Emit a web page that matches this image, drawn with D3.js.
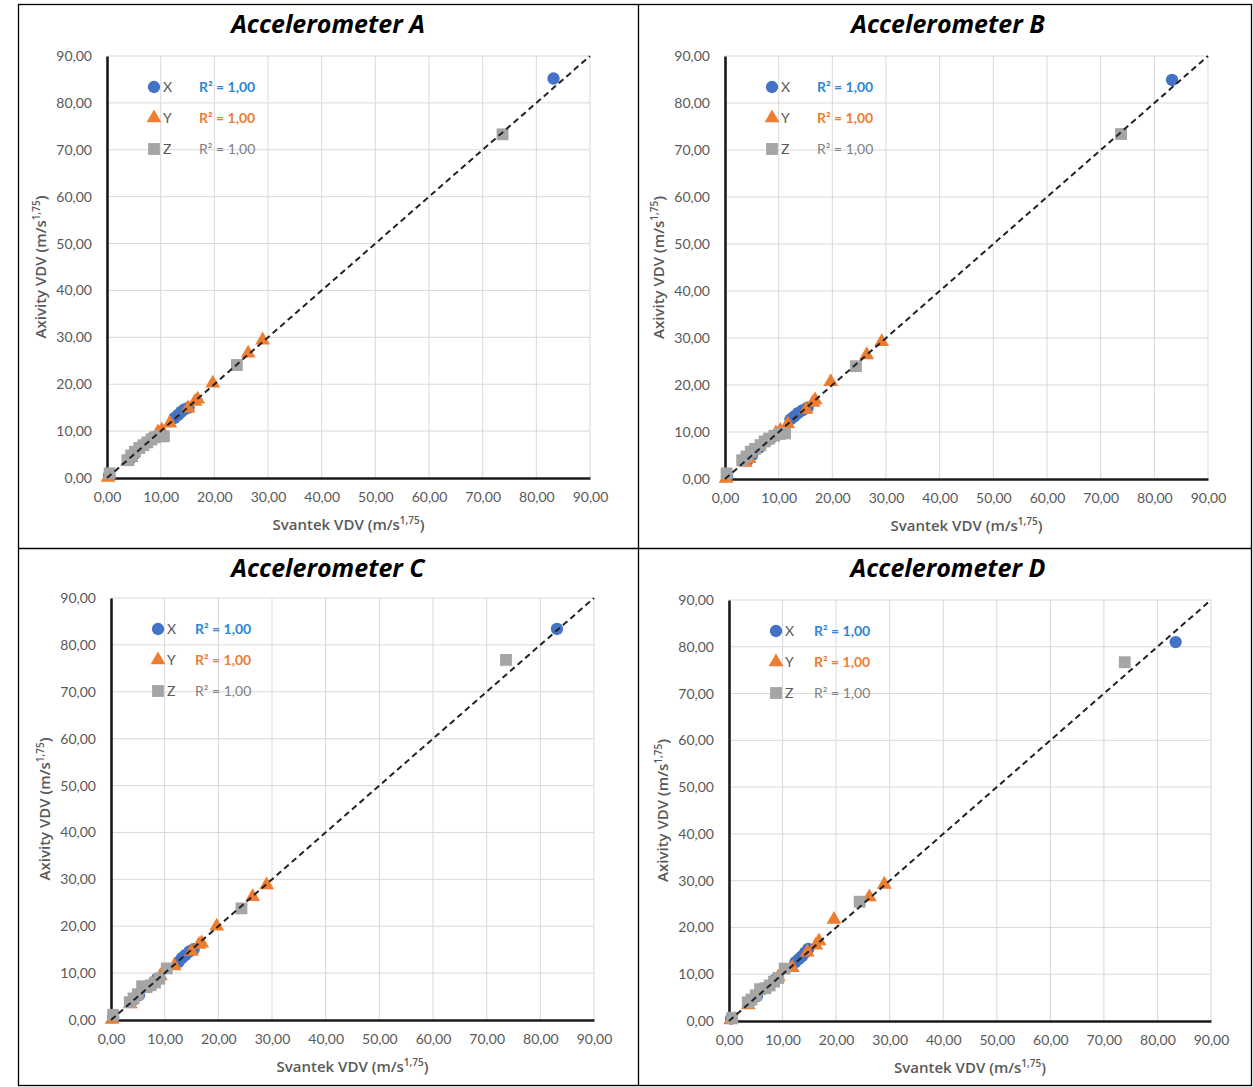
<!DOCTYPE html>
<html>
<head>
<meta charset="utf-8">
<script src="https://cdn.jsdelivr.net/npm/d3@7"></script>
<style>
  body { margin: 0; background: #fff; }
  svg { display: block; font-family: Lato, "Open Sans", sans-serif; }
</style>
</head>
<body>
<svg id="chart" width="1253" height="1087"></svg>
<script>
// axis ticks (0..90 by 10), shown with a decimal comma
var tickValues = [0, 10, 20, 30, 40, 50, 60, 70, 80, 90];
var seriesNames = ["X", "Y", "Z"];
var r2Labels = ["R\u00b2 = 1,00", "R\u00b2 = 1,00", "R\u00b2 = 1,00"];
var panelTitles = ["Accelerometer A", "Accelerometer B", "Accelerometer C", "Accelerometer D"];

// [Svantek, Axivity] pairs
var accA_X = [[0.4,0.6],[4.2,4.0],[5.0,5.0],[6.5,6.8],[8.5,8.6],[12.6,12.8],[13.2,13.4],[13.8,14.1],[14.4,14.6],[15.2,15.0],[83.2,85.2]];
var accA_Y = [[0.2,0.1],[3.8,3.5],[4.5,4.3],[9.5,9.8],[10.2,10.2],[11.7,11.7],[15.1,14.9],[16.4,16.3],[16.9,16.8],[19.7,20.2],[26.3,26.6],[29.0,29.4]];
var accA_Z = [[0.5,1.0],[3.8,3.8],[4.5,4.8],[5.2,5.6],[6.0,6.4],[6.8,7.0],[7.5,7.6],[8.3,8.2],[9.0,8.7],[9.8,8.9],[10.6,8.9],[24.2,24.1],[73.7,73.3]];

var accB_X = [[0.4,0.6],[4.2,4.0],[5.0,5.0],[6.5,6.8],[8.5,8.6],[12.2,12.7],[12.9,13.3],[13.6,14.0],[14.4,14.6],[15.4,15.2],[83.3,84.9]];
var accB_Y = [[0.2,0.1],[3.8,3.5],[4.5,4.3],[9.5,9.8],[10.3,10.3],[11.7,11.7],[15.1,14.8],[16.4,16.3],[16.8,16.8],[19.7,20.7],[26.4,26.4],[29.2,29.2]];
var accB_Z = [[0.3,1.2],[3.2,4.0],[4.0,4.8],[4.8,5.8],[5.6,6.4],[6.6,7.2],[7.4,8.0],[8.2,8.6],[9.2,9.2],[10.2,9.6],[11.2,9.7],[24.4,24.0],[73.8,73.4]];

var accC_X = [[0.4,0.6],[4.0,4.2],[5.2,5.3],[7.0,7.1],[8.6,8.8],[12.6,12.4],[13.2,13.2],[13.8,13.8],[14.6,14.6],[15.4,15.1],[83.1,83.4]];
var accC_Y = [[0.2,0.1],[3.6,3.4],[9.2,9.4],[11.8,11.5],[15.0,14.6],[16.4,16.1],[16.9,16.4],[19.7,20.0],[26.4,26.3],[29.0,28.8]];
var accC_Z = [[0.4,1.1],[3.5,3.8],[4.2,4.6],[5.0,5.5],[5.8,7.2],[6.6,7.0],[7.4,7.4],[8.2,8.0],[9.0,8.8],[10.4,11.0],[24.3,23.8],[73.6,76.8]];

var accD_X = [[0.4,0.5],[4.0,4.2],[5.2,5.3],[7.0,7.1],[8.6,8.8],[12.4,12.6],[13.0,13.2],[13.6,13.8],[14.2,14.6],[14.8,15.4],[83.4,81.0]];
var accD_Y = [[0.3,0.2],[3.6,3.4],[9.2,9.4],[11.8,11.4],[14.6,14.7],[16.2,16.2],[16.8,17.1],[19.6,21.7],[26.2,26.5],[29.0,29.2]];
var accD_Z = [[0.6,0.7],[3.5,4.0],[4.2,4.6],[5.0,5.5],[5.8,6.8],[6.8,7.0],[7.6,7.6],[8.4,8.4],[9.2,9.2],[10.4,11.2],[24.4,25.5],[73.9,76.7]];

var colors = ["#4472c4", "#ed7d31", "#a5a5a5"];
var r2Colors = ["#2e86d6", "#ed7d31", "#7f7f7f"];

var svg = d3.select("#chart");

// table borders
svg.append("rect").attr("x", 18.5).attr("y", 4.5).attr("width", 1233).attr("height", 1081)
    .attr("fill", "none").attr("stroke", "#000").attr("stroke-width", 1.3);
svg.append("line").attr("x1", 638.5).attr("x2", 638.5).attr("y1", 4.5).attr("y2", 1085.5)
    .attr("stroke", "#000").attr("stroke-width", 1.3);
svg.append("line").attr("x1", 18.5).attr("x2", 1251.5).attr("y1", 548.5).attr("y2", 548.5)
    .attr("stroke", "#000").attr("stroke-width", 1.3);

var panels = [
    {title: panelTitles[0], series: [accA_X, accA_Y, accA_Z], x0: 107, x1: 590, y0: 478, y1: 56, titleX: 328, titleY: 33, legR2: 92},
    {title: panelTitles[1], series: [accB_X, accB_Y, accB_Z], x0: 725, x1: 1208, y0: 479, y1: 56, titleX: 948, titleY: 33, legR2: 92},
    {title: panelTitles[2], series: [accC_X, accC_Y, accC_Z], x0: 111, x1: 594, y0: 1020, y1: 598, titleX: 328, titleY: 577, legR2: 84},
    {title: panelTitles[3], series: [accD_X, accD_Y, accD_Z], x0: 729, x1: 1211, y0: 1021, y1: 600, titleX: 948, titleY: 577, legR2: 85}
];

var fmt = function(d) { return d3.format(".2f")(d).replace(".", ","); };

var symbolFor = [d3.symbolCircle, d3.symbolTriangle, d3.symbolSquare];
var symbolSize = [120, 95, 140];

panels.forEach(function(p) {
    var x = d3.scaleLinear().domain([0, 90]).range([p.x0, p.x1]);
    var y = d3.scaleLinear().domain([0, 90]).range([p.y0, p.y1]);
    var g = svg.append("g");

    g.append("text")
        .attr("x", p.titleX).attr("y", p.titleY)
        .attr("text-anchor", "middle")
        .attr("font-family", "'Open Sans', sans-serif")
        .attr("font-size", "25px").attr("font-weight", "bold").attr("font-style", "italic")
        .attr("fill", "#000")
        .text(p.title);

    // grid
    g.selectAll(".vgrid").data(tickValues.slice(1)).enter().append("line")
        .attr("x1", function(d) { return x(d); }).attr("x2", function(d) { return x(d); })
        .attr("y1", y(0)).attr("y2", y(90))
        .attr("stroke", "#d9d9d9").attr("stroke-width", 1);
    g.selectAll(".hgrid").data(tickValues.slice(1)).enter().append("line")
        .attr("x1", x(0)).attr("x2", x(90))
        .attr("y1", function(d) { return y(d); }).attr("y2", function(d) { return y(d); })
        .attr("stroke", "#d9d9d9").attr("stroke-width", 1);

    // axes
    var xAxis = g.append("g").attr("transform", "translate(0," + y(0) + ")")
        .call(d3.axisBottom(x).tickValues(tickValues).tickFormat(fmt).tickSize(0).tickPadding(14));
    var yAxis = g.append("g").attr("transform", "translate(" + x(0) + ",0)")
        .call(d3.axisLeft(y).tickValues(tickValues).tickFormat(fmt).tickSize(0).tickPadding(15));
    [xAxis, yAxis].forEach(function(a) {
        a.select(".domain").attr("stroke", "#1a1a1a").attr("stroke-width", 2.6);
        a.selectAll("text").attr("fill", "#595959").attr("font-size", "14px").attr("font-family", "Lato, sans-serif");
    });

    // axis titles
    var xt = g.append("text")
        .attr("x", (p.x0 + p.x1) / 2).attr("y", p.y0 + 52)
        .attr("text-anchor", "middle")
        .attr("font-family", "'Open Sans', sans-serif")
        .attr("font-size", "15px").attr("font-weight", 600).attr("fill", "#595959");
    xt.append("tspan").text("Svantek VDV (m/s");
    xt.append("tspan").attr("dy", -6).attr("font-size", "10px").text("1,75");
    xt.append("tspan").attr("dy", 6).text(")");

    var yt = g.append("text")
        .attr("transform", "translate(" + (p.x0 - 61) + "," + ((p.y0 + p.y1) / 2) + ") rotate(-90)")
        .attr("text-anchor", "middle")
        .attr("font-family", "'Open Sans', sans-serif")
        .attr("font-size", "15px").attr("font-weight", 600).attr("fill", "#595959");
    yt.append("tspan").text("Axivity VDV (m/s");
    yt.append("tspan").attr("dy", -6).attr("font-size", "10px").text("1,75");
    yt.append("tspan").attr("dy", 6).text(")");

    // points: X, then Y, then Z on top
    p.series.forEach(function(data, si) {
        g.selectAll(".pt" + si).data(data).enter().append("path")
            .attr("d", d3.symbol().type(symbolFor[si]).size(symbolSize[si]))
            .attr("transform", function(d) { return "translate(" + x(d[0]) + "," + y(d[1]) + ")"; })
            .attr("fill", colors[si]);
    });

    // trend line
    g.append("line")
        .attr("x1", x(0)).attr("y1", y(0)).attr("x2", x(90)).attr("y2", y(90))
        .attr("stroke", "#222").attr("stroke-width", 2).attr("stroke-dasharray", "6,4");

    // legend
    seriesNames.forEach(function(name, i) {
        var ly = p.y1 + 31 + i * 31;
        g.append("path")
            .attr("d", d3.symbol().type(symbolFor[i]).size(symbolSize[i]))
            .attr("transform", "translate(" + (p.x0 + 47) + "," + ly + ")")
            .attr("fill", colors[i]);
        g.append("text")
            .attr("x", p.x0 + 56).attr("y", ly + 5)
            .attr("font-size", "14px").attr("fill", "#595959")
            .text(name);
        g.append("text")
            .attr("x", p.x0 + p.legR2).attr("y", ly + 5)
            .attr("font-size", "14px").attr("fill", r2Colors[i])
            .attr("font-weight", i < 2 ? "bold" : "normal")
            .text(r2Labels[i]);
    });
});
</script>
</body>
</html>
